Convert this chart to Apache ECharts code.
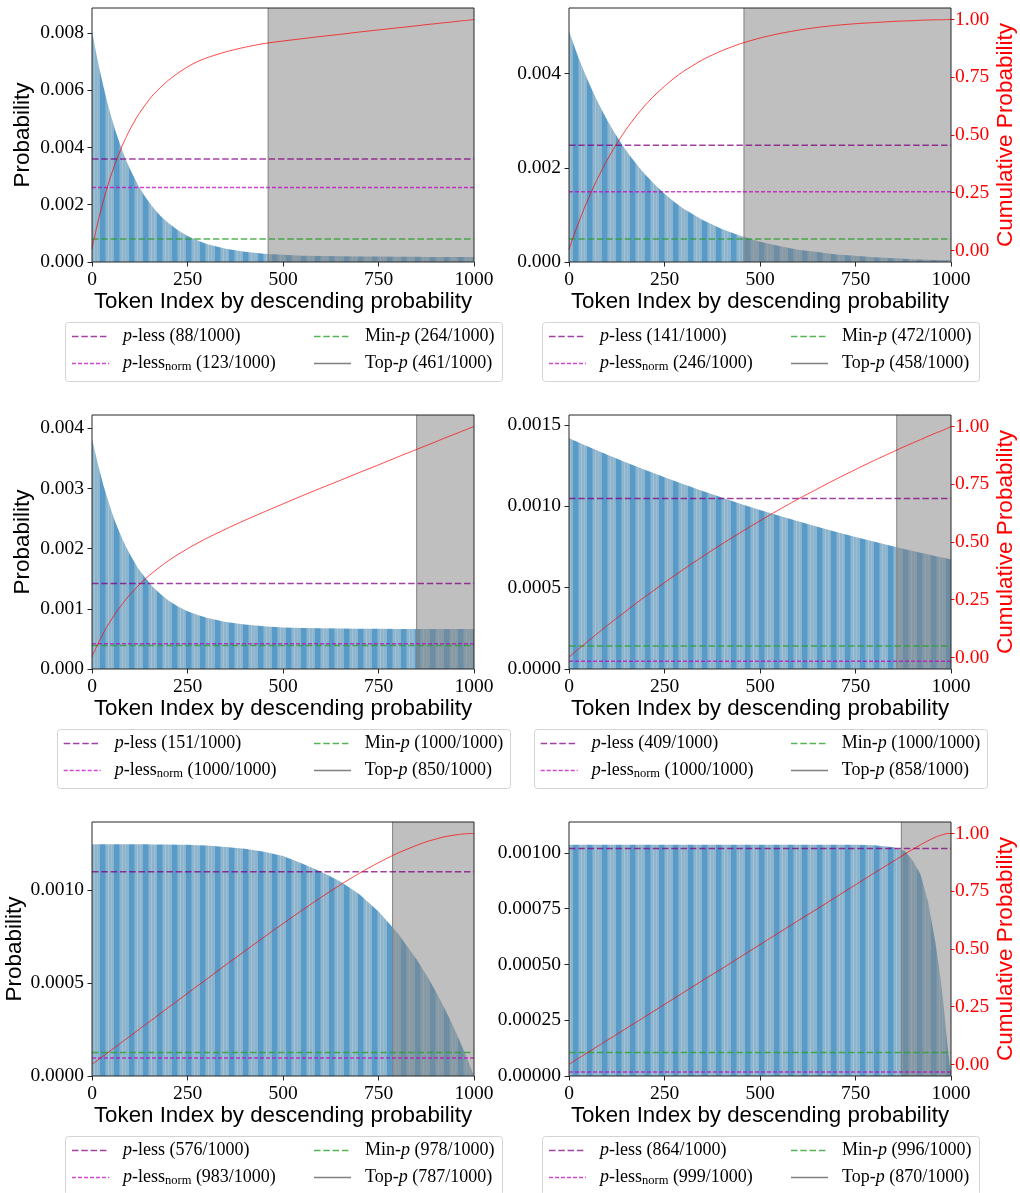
<!DOCTYPE html>
<html>
<head>
<meta charset="utf-8">
<title>Token probability distributions and truncation thresholds</title>
<script src="https://cdn.jsdelivr.net/npm/echarts@6/dist/echarts.min.js"></script>
<style>
  html, body { margin: 0; padding: 0; background: #ffffff; }
  #chart { width: 1020px; height: 1193px; }
</style>
</head>
<body>
<div id="chart"></div>
<script>
// ---------------------------------------------------------------------------
// Data: six next-token distributions over a 1000-token vocabulary, sorted by
// descending probability, tabulated at the token indices below.
// ---------------------------------------------------------------------------
const vocabSize = 1000;
const tokenIndex = [0, 10, 20, 30, 40, 50, 60, 70, 80, 90, 100, 120, 140, 160, 180, 200, 225, 250, 275, 300,
  350, 400, 450, 500, 550, 600, 650, 700, 750, 800, 850, 880, 900, 920, 940, 960, 970, 980, 990, 1000];

// probability of each token
const prob1 = [0.00808, 0.00736, 0.00671, 0.00612, 0.00558, 0.00509, 0.00464, 0.00424, 0.00387, 0.00353, 0.00323,
  0.00270, 0.00226, 0.00190, 0.00160, 0.00136, 0.00111, 0.00091, 0.00076, 0.00063,
  0.00046, 0.00036, 0.00029, 0.00025, 0.00022, 0.00021, 0.00020, 0.00019, 0.00019, 0.000180, 0.000179,
  0.000178, 0.000177, 0.000176, 0.000175, 0.000174, 0.000174, 0.000173, 0.000173, 0.000172];
const prob2 = [0.00490, 0.00467, 0.00444, 0.00423, 0.00403, 0.00384, 0.00366, 0.00348, 0.00332, 0.00316, 0.00301,
  0.00273, 0.00248, 0.00225, 0.00204, 0.00185, 0.00164, 0.00145, 0.00128, 0.00113,
  0.00089, 0.00070, 0.00055, 0.00043, 0.00034, 0.00026, 0.00021, 0.00016, 0.00013, 0.00010, 0.000078,
  0.000067, 0.000061, 0.000055, 0.000050, 0.000045, 0.000043, 0.000041, 0.000039, 0.000037];
const prob3 = [0.003835, 0.00355, 0.00329, 0.00305, 0.00284, 0.00264, 0.00246, 0.00230, 0.00215, 0.00202, 0.00190,
  0.00168, 0.00151, 0.00136, 0.00124, 0.00114, 0.00104, 0.00096, 0.00090, 0.00085,
  0.00078, 0.00074, 0.00071, 0.00069, 0.00068, 0.000676, 0.000672, 0.000669, 0.000667, 0.000666, 0.000665,
  0.000665, 0.000665, 0.000665, 0.000665, 0.000665, 0.000665, 0.000665, 0.000665, 0.000665];
const prob4 = [0.001418, 0.001407, 0.001397, 0.001387, 0.001376, 0.001366, 0.001356, 0.001346, 0.001336, 0.001326, 0.001316,
  0.001297, 0.001278, 0.001259, 0.001240, 0.001222, 0.001200, 0.001177, 0.001156, 0.001134,
  0.001093, 0.001053, 0.001014, 0.000977, 0.000941, 0.000907, 0.000874, 0.000842, 0.000811, 0.000781, 0.000753,
  0.000736, 0.000725, 0.000714, 0.000704, 0.000693, 0.000688, 0.000683, 0.000678, 0.000673];
const prob5 = [0.001248, 0.001248, 0.001248, 0.001248, 0.001248, 0.001248, 0.001248, 0.001248, 0.001248, 0.001248, 0.001248,
  0.001248, 0.001248, 0.001247, 0.001247, 0.001247, 0.001246, 0.001245, 0.001243, 0.001241,
  0.001234, 0.001224, 0.001208, 0.001185, 0.001145, 0.001100, 0.001048, 0.000979, 0.000886, 0.000770, 0.000627,
  0.000528, 0.000455, 0.000376, 0.000292, 0.000201, 0.000153, 0.000104, 0.000053, 0.000000];
const prob6 = [0.001037, 0.001037, 0.001037, 0.001037, 0.001037, 0.001037, 0.001037, 0.001037, 0.001037, 0.001037, 0.001037,
  0.001037, 0.001037, 0.001037, 0.001037, 0.001037, 0.001037, 0.001037, 0.001037, 0.001037,
  0.001037, 0.001037, 0.001037, 0.001037, 0.001037, 0.001037, 0.001037, 0.001037, 0.001037, 0.001035, 0.001026,
  0.001008, 0.000965, 0.000905, 0.000780, 0.000590, 0.000470, 0.000330, 0.000150, 0.000000];

// cumulative probability up to each token
const cum1 = [0.008, 0.084, 0.153, 0.216, 0.273, 0.326, 0.373, 0.416, 0.457, 0.493, 0.526,
  0.584, 0.632, 0.674, 0.707, 0.737, 0.768, 0.795, 0.817, 0.834,
  0.860, 0.880, 0.896, 0.907, 0.917, 0.927, 0.936, 0.946, 0.955, 0.964, 0.973,
  0.979, 0.982, 0.986, 0.989, 0.993, 0.995, 0.996, 0.998, 1.000];
const cum2 = [0.005, 0.053, 0.098, 0.141, 0.183, 0.222, 0.259, 0.295, 0.329, 0.361, 0.392,
  0.449, 0.501, 0.548, 0.591, 0.630, 0.673, 0.711, 0.746, 0.776,
  0.826, 0.865, 0.896, 0.920, 0.939, 0.954, 0.966, 0.975, 0.982, 0.987, 0.992,
  0.994, 0.995, 0.997, 0.998, 0.999, 0.999, 0.999, 1.000, 1.000];
const cum3 = [0.004, 0.040, 0.074, 0.106, 0.135, 0.162, 0.188, 0.211, 0.233, 0.254, 0.273,
  0.309, 0.341, 0.369, 0.395, 0.419, 0.446, 0.471, 0.494, 0.516,
  0.556, 0.594, 0.630, 0.665, 0.700, 0.734, 0.767, 0.801, 0.834, 0.868, 0.901,
  0.921, 0.934, 0.948, 0.961, 0.974, 0.981, 0.987, 0.994, 1.000];
const cum4 = [0.001, 0.016, 0.030, 0.043, 0.057, 0.071, 0.084, 0.098, 0.111, 0.125, 0.138,
  0.164, 0.189, 0.215, 0.240, 0.264, 0.294, 0.324, 0.353, 0.382,
  0.437, 0.491, 0.542, 0.592, 0.640, 0.686, 0.730, 0.773, 0.814, 0.854, 0.892,
  0.915, 0.929, 0.943, 0.958, 0.972, 0.978, 0.985, 0.992, 1.000];
const cum5 = [0.001, 0.012, 0.025, 0.037, 0.049, 0.062, 0.074, 0.086, 0.099, 0.111, 0.123,
  0.148, 0.173, 0.197, 0.222, 0.247, 0.277, 0.308, 0.339, 0.369,
  0.431, 0.491, 0.551, 0.610, 0.668, 0.724, 0.778, 0.828, 0.874, 0.915, 0.949,
  0.967, 0.976, 0.985, 0.991, 0.996, 0.998, 0.999, 1.000, 1.000];
const cum6 = [0.001, 0.011, 0.022, 0.032, 0.042, 0.053, 0.063, 0.074, 0.084, 0.094, 0.105,
  0.125, 0.146, 0.167, 0.187, 0.208, 0.234, 0.260, 0.286, 0.312,
  0.364, 0.415, 0.467, 0.519, 0.571, 0.623, 0.674, 0.726, 0.778, 0.830, 0.881,
  0.912, 0.932, 0.951, 0.969, 0.985, 0.991, 0.996, 1.000, 1.000];

// truncation thresholds (probability levels) per distribution
const pLessLevel     = [0.0036, 0.00248, 0.00142, 0.001047, 0.0011, 0.00102];
const pLessNormLevel = [0.0026, 0.00149, 0.00042, 0.000047, 0.000097, 0.000018];
const minPLevel      = [0.0008, 0.00049, 0.00039, 0.000141, 0.000126, 0.000105];
// top-p (p = 0.9) cut-off index per distribution
const topPIndex      = [461, 458, 850, 858, 787, 870];
// number of tokens kept by each method
const pLessKept      = [88, 141, 151, 409, 576, 864];
const pLessNormKept  = [123, 246, 1000, 1000, 983, 999];
const minPKept       = [264, 472, 1000, 1000, 978, 996];

// axis ranges and tick values
const probAxisMax = [0.00887, 0.00539, 0.00422, 0.00156, 0.001368, 0.001139];
const yTicks1 = [0, 0.002, 0.004, 0.006, 0.008];
const yTicks2 = [0, 0.002, 0.004];
const yTicks3 = [0, 0.001, 0.002, 0.003, 0.004];
const yTicks4 = [0, 0.0005, 0.0010, 0.0015];
const yTicks5 = [0, 0.0005, 0.0010];
const yTicks6 = [0, 0.00025, 0.00050, 0.00075, 0.00100];
const yTickDecimals = [3, 3, 3, 4, 4, 5];
const cumTicks = [0, 0.25, 0.5, 0.75, 1.0];
const xTicks = [0, 250, 500, 750, 1000];

const probSets = [prob1, prob2, prob3, prob4, prob5, prob6];
const cumSets = [cum1, cum2, cum3, cum4, cum5, cum6];
const yTickSets = [yTicks1, yTicks2, yTicks3, yTicks4, yTicks5, yTicks6];

// ---------------------------------------------------------------------------
// Layout and styling
// ---------------------------------------------------------------------------
const SERIF = '"Liberation Serif", "Times New Roman", serif';
const SANS = '"Liberation Sans", Arial, sans-serif';
const colLeft = [92, 569];
const rowTop = [8, 415, 822];
const plotW = 382, plotH = 254;

const COLORS = {
  pLess: 'rgba(128,0,128,0.75)',
  pLessNorm: 'rgba(191,0,191,0.72)',
  minP: 'rgba(44,160,44,0.8)',
  topP: '#808080',
  cum: 'rgba(255,0,0,0.72)',
  frame: '#262626'
};
const DASH_LONG = [6.5, 2.8];
const DASH_SHORT = [4, 2];

// the dense bars render as a fine blue moire; reproduce it as a repeating texture
function barTexture() {
  const cv = document.createElement('canvas');
  cv.width = 43; cv.height = 8;
  const ctx = cv.getContext('2d');
  ctx.fillStyle = '#8cb4cd';
  ctx.fillRect(0, 0, 43, 8);
  [0, 14, 28].forEach(function (x0) {
    ctx.fillStyle = '#589bc9';
    ctx.fillRect(x0, 0, 5, 8);
    ctx.fillStyle = '#77a9cb';
    ctx.fillRect(x0 + 5, 0, 1, 8);
    ctx.fillStyle = '#a5c3d7';
    ctx.fillRect(x0 + 8, 0, 1, 8);
    ctx.fillStyle = '#9abdd3';
    ctx.fillRect(x0 + 11, 0, 1, 8);
  });
  return cv;
}
const texture = { image: barTexture(), repeat: 'repeat' };

// legend geometry relative to the plot's left edge / bottom edge
const legendNarrow = { boxL: -27, boxW: 436.5, h1: -20, t1: 31, h2: 222, t2: 273 };
const legendWide   = { boxL: -35.5, boxW: 452.5, h1: -28.3, t1: 22.7, h2: 222, t2: 272.7 };
const handleLen = 37;

const richStyles = {
  r: { fontFamily: SERIF, fontSize: 18, lineHeight: 20, fill: '#000' },
  i: { fontFamily: SERIF, fontSize: 18, lineHeight: 20, fontStyle: 'italic', fill: '#000' },
  s: { fontFamily: SERIF, fontSize: 12.5, lineHeight: 12, verticalAlign: 'bottom', fill: '#000' }
};

function legendGroup(i) {
  const r = Math.floor(i / 2), c = i % 2;
  const PL = colLeft[c], PB = rowTop[r] + plotH;
  const g = r === 1 ? legendWide : legendNarrow;
  const boxTop = PB + 59.5;
  const rows = [PB + 74.5, PB + 101.5];
  const items = [
    { col: 0, row: 0, color: COLORS.pLess, dash: DASH_LONG,
      text: '{i|p}{r|-less (' + pLessKept[i] + '/' + vocabSize + ')}' },
    { col: 0, row: 1, color: COLORS.pLessNorm, dash: DASH_SHORT,
      text: '{i|p}{r|-less}{s|norm}{r| (' + pLessNormKept[i] + '/' + vocabSize + ')}' },
    { col: 1, row: 0, color: COLORS.minP, dash: DASH_LONG,
      text: '{r|Min-}{i|p}{r| (' + minPKept[i] + '/' + vocabSize + ')}' },
    { col: 1, row: 1, color: COLORS.topP, dash: null,
      text: '{r|Top-}{i|p}{r| (' + topPIndex[i] + '/' + vocabSize + ')}' }
  ];
  const children = [{
    type: 'rect',
    shape: { x: Math.round(PL + g.boxL) + 0.5, y: Math.round(boxTop) + 0.5, width: Math.round(g.boxW), height: 59, r: 3 },
    style: { fill: 'rgba(255,255,255,0.8)', stroke: '#d4d4d4', lineWidth: 1 }
  }];
  items.forEach(function (it) {
    const hx = PL + (it.col === 0 ? g.h1 : g.h2);
    const tx = PL + (it.col === 0 ? g.t1 : g.t2);
    const y = rows[it.row];
    children.push({
      type: 'line',
      shape: { x1: hx, y1: y, x2: hx + handleLen, y2: y },
      style: { stroke: it.color, lineWidth: 1.5, lineDash: it.dash || null }
    });
    children.push({
      type: 'text',
      style: { x: tx, y: y, text: it.text, rich: richStyles, align: 'left', verticalAlign: 'middle' }
    });
  });
  return { type: 'group', children: children };
}

// ---------------------------------------------------------------------------
// Chart option
// ---------------------------------------------------------------------------
const option = {
  animation: false,
  backgroundColor: '#ffffff',
  grid: [], xAxis: [], yAxis: [], series: [], graphic: []
};

probSets.forEach(function (prob, i) {
  const r = Math.floor(i / 2), c = i % 2;
  const yMax = probAxisMax[i];
  const dec = yTickDecimals[i];
  const yTicks = yTickSets[i];

  option.grid.push({
    left: colLeft[c], top: rowTop[r], width: plotW, height: plotH,
    show: true, z: 10, backgroundColor: 'transparent',
    borderColor: COLORS.frame, borderWidth: 1
  });

  option.xAxis.push({
    type: 'value', gridIndex: i, min: 0, max: vocabSize,
    axisLine: { show: false },
    splitLine: { show: false },
    axisTick: { show: true, length: 4.5, customValues: xTicks, lineStyle: { color: COLORS.frame } },
    axisLabel: {
      customValues: xTicks, fontFamily: SERIF, fontSize: 19.5, color: '#000', margin: 8,
      formatter: function (v) { return String(v); }
    },
    name: 'Token Index by descending probability',
    nameLocation: 'middle', nameGap: 27,
    nameTextStyle: { fontFamily: SANS, fontSize: 22.3, color: '#000' }
  });

  // probability axis (left)
  option.yAxis.push({
    type: 'value', gridIndex: i, position: 'left', min: 0, max: yMax,
    axisLine: { show: false },
    splitLine: { show: false },
    axisTick: { show: true, length: 4.5, customValues: yTicks, lineStyle: { color: COLORS.frame } },
    axisLabel: {
      customValues: yTicks, fontFamily: SERIF, fontSize: 19.5, color: '#000', margin: 8,
      formatter: function (v) { return v.toFixed(dec); }
    },
    name: c === 0 ? 'Probability' : '',
    nameLocation: 'middle', nameRotate: 90, nameGap: 58,
    nameTextStyle: { fontFamily: SANS, fontSize: 22.5, color: '#000' }
  });

  // cumulative probability axis (right; labelled on the right-hand column only)
  option.yAxis.push({
    type: 'value', gridIndex: i, position: 'right', min: -0.05, max: 1.05,
    show: c === 1,
    axisLine: { show: false },
    splitLine: { show: false },
    axisTick: { show: true, length: 3.5, customValues: cumTicks, lineStyle: { color: '#ff0000' } },
    axisLabel: {
      customValues: cumTicks, fontFamily: SERIF, fontSize: 19.5, color: '#ff0000', margin: 4,
      formatter: function (v) { return v.toFixed(2); }
    },
    name: 'Cumulative Probability',
    nameLocation: 'middle', nameRotate: 90, nameGap: 43,
    nameTextStyle: { fontFamily: SANS, fontSize: 22.5, color: '#ff0000' }
  });

  const probAxis = 2 * i, cumAxis = 2 * i + 1;

  // token probabilities
  option.series.push({
    type: 'line', name: 'Probability', xAxisIndex: i, yAxisIndex: probAxis,
    data: tokenIndex.map(function (t, k) { return [t, prob[k]]; }),
    symbol: 'none', silent: true, z: 1,
    lineStyle: { width: 0 },
    areaStyle: { color: texture, opacity: 1, origin: 'start' }
  });

  // top-p kept region boundary and truncated region
  option.series.push({
    type: 'line', name: 'Top-p', xAxisIndex: i, yAxisIndex: probAxis,
    data: [[topPIndex[i], 0], [topPIndex[i], yMax]],
    symbol: 'none', silent: true, z: 4,
    lineStyle: { color: COLORS.topP, width: 1 },
    markArea: {
      silent: true, z: 3,
      itemStyle: { color: 'rgba(128,128,128,0.5)' },
      data: [[{ xAxis: topPIndex[i] }, { xAxis: vocabSize }]]
    }
  });

  // threshold levels
  [
    { name: 'p-less', level: pLessLevel[i], color: COLORS.pLess, dash: DASH_LONG },
    { name: 'p-less norm', level: pLessNormLevel[i], color: COLORS.pLessNorm, dash: DASH_SHORT },
    { name: 'Min-p', level: minPLevel[i], color: COLORS.minP, dash: DASH_LONG }
  ].forEach(function (th) {
    option.series.push({
      type: 'line', name: th.name, xAxisIndex: i, yAxisIndex: probAxis,
      data: [[0, th.level], [vocabSize, th.level]],
      symbol: 'none', silent: true, z: 5,
      lineStyle: { color: th.color, width: 1.5, type: th.dash }
    });
  });

  // cumulative probability
  option.series.push({
    type: 'line', name: 'Cumulative Probability', xAxisIndex: i, yAxisIndex: cumAxis,
    data: tokenIndex.map(function (t, k) { return [t, cumSets[i][k]]; }),
    symbol: 'none', silent: true, z: 6, smooth: 0.2,
    lineStyle: { color: COLORS.cum, width: 1 }
  });

  option.graphic.push(legendGroup(i));
});

const chart = echarts.init(document.getElementById('chart'), null, { renderer: 'canvas' });
chart.setOption(option);
</script>
</body>
</html>
